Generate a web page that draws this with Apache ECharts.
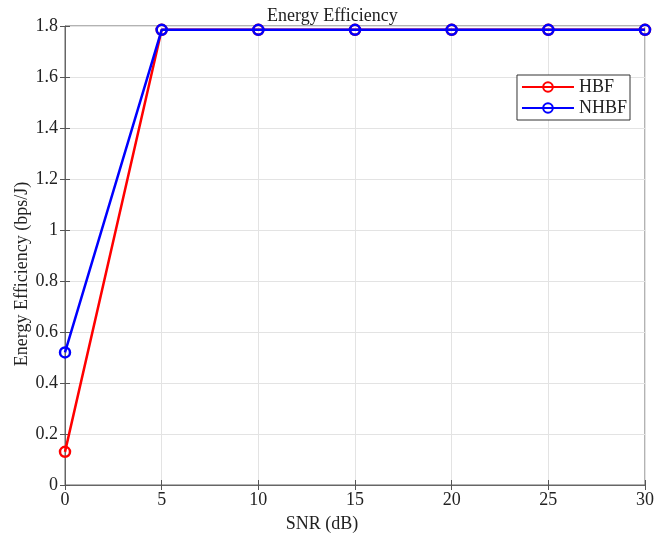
<!DOCTYPE html>
<html>
<head>
<meta charset="utf-8">
<script src="https://cdn.jsdelivr.net/npm/echarts@6/dist/echarts.min.js"></script>
<style>
  html, body { margin: 0; padding: 0; background: #fff; }
  #main { width: 669px; height: 538px; }
</style>
</head>
<body>
<div id="main"></div>
<script>
// data
var snr = [0, 5, 10, 15, 20, 25, 30];
var hbf = [0.13, 1.785, 1.785, 1.785, 1.785, 1.785, 1.785];
var nhbf = [0.52, 1.785, 1.785, 1.785, 1.785, 1.785, 1.785];

var font = 'Liberation Serif, Times New Roman, serif';
var fs = 18;
var chart = echarts.init(document.getElementById('main'));

function pairs(xs, ys) {
  return xs.map(function (x, i) { return [x, ys[i]]; });
}

var tickStyle = { show: true, inside: true, length: 5, lineStyle: { color: '#555' } };
var gridLine = { show: true, lineStyle: { color: '#e3e3e3', width: 1 } };

chart.setOption({
  animation: false,
  backgroundColor: '#fff',
  textStyle: { fontFamily: font },
  title: {
    text: 'Energy Efficiency',
    left: 262,
    top: 2,
    textStyle: { fontFamily: font, fontSize: fs, fontWeight: 'normal', color: '#222' }
  },
  grid: {
    left: 65, right: 24, top: 26, bottom: 53,
    show: true, borderColor: '#666', borderWidth: 1
  },
  legend: {
    orient: 'vertical',
    right: 39, top: 75,
    itemWidth: 52, itemHeight: 12, itemGap: 3,
    padding: [3, 3, 3, 4],
    borderColor: '#333', borderWidth: 1, backgroundColor: '#fff',
    textStyle: { fontFamily: font, fontSize: fs, color: '#222' },
    data: ['HBF', 'NHBF']
  },
  xAxis: [{
    type: 'value', min: 0, max: 30, interval: 5,
    name: 'SNR (dB)', nameLocation: 'middle', nameGap: 30,
    nameTextStyle: { fontFamily: font, fontSize: fs, color: '#222', padding: [0, 66, 0, 0] },
    axisLine: { show: true, lineStyle: { color: '#666' } },
    axisTick: tickStyle,
    axisLabel: { fontFamily: font, fontSize: fs, color: '#222', margin: 6 },
    splitLine: gridLine
  }, {
    type: 'value', min: 0, max: 30, interval: 5, position: 'top',
    axisLine: { show: false }, axisTick: tickStyle,
    axisLabel: { show: false }, splitLine: { show: false }
  }],
  yAxis: [{
    type: 'value', min: 0, max: 1.8, interval: 0.2,
    name: 'Energy Efficiency (bps/J)', nameLocation: 'middle', nameGap: 34,
    nameMoveOverlap: false,
    nameTextStyle: { fontFamily: font, fontSize: fs, color: '#222', padding: [0, 37, 0, 0] },
    axisLine: { show: true, lineStyle: { color: '#666' } },
    axisTick: tickStyle,
    axisLabel: {
      fontFamily: font, fontSize: fs, color: '#222', margin: 7,
      formatter: function (v) { return +v.toFixed(1) + ''; }
    },
    splitLine: gridLine
  }, {
    type: 'value', min: 0, max: 1.8, interval: 0.2, position: 'right',
    axisLine: { show: false }, axisTick: tickStyle,
    axisLabel: { show: false }, splitLine: { show: false }
  }],
  series: [{
    name: 'HBF', type: 'line',
    data: pairs(snr, hbf),
    symbol: 'circle', symbolSize: 10,
    lineStyle: { color: '#ff0000', width: 2.5 },
    itemStyle: { color: 'rgba(0,0,0,0)', borderColor: '#ff0000', borderWidth: 2.5 },
    z: 2
  }, {
    name: 'NHBF', type: 'line',
    data: pairs(snr, nhbf),
    symbol: 'circle', symbolSize: 10,
    lineStyle: { color: '#0000ff', width: 2.5 },
    itemStyle: { color: 'rgba(0,0,0,0)', borderColor: '#0000ff', borderWidth: 2.5 },
    z: 3
  }]
});
</script>
</body>
</html>
